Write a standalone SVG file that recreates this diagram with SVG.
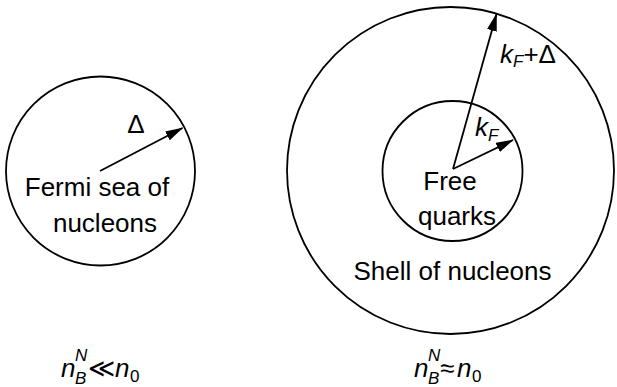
<svg xmlns="http://www.w3.org/2000/svg" width="617" height="387" viewBox="0 0 617 387">
<style>
.c{fill:none;stroke:#000;stroke-width:1.8}
.a{fill:none;stroke:#000;stroke-width:1.8}
.t{font-family:"Liberation Sans",Arial,sans-serif;font-size:26px;fill:#000}
.i{font-style:italic}
.s{font-size:17px}
</style>
<defs>
<marker id="ah" markerWidth="18" markerHeight="10" refX="17" refY="5" orient="auto" markerUnits="userSpaceOnUse">
<path d="M0,0 L18,5 L0,10 Z" fill="#000"/>
</marker>
</defs>
<rect width="617" height="387" fill="#fff"/>
<g id="fermi-sea">
<circle class="c" cx="100.5" cy="171" r="94.5"/>
<text class="t" x="97" y="196" text-anchor="middle">Fermi sea of</text>
<text class="t" x="105" y="232" text-anchor="middle">nucleons</text>
</g>
<g id="shell">
<circle class="c" cx="450.5" cy="170.5" r="163.5"/>
<text class="t" x="452.5" y="280" text-anchor="middle">Shell of nucleons</text>
</g>
<g id="free-quarks">
<circle class="c" cx="452.5" cy="171" r="70"/>
<text class="t" x="450" y="190" text-anchor="middle">Free</text>
<text class="t" x="457" y="225" text-anchor="middle">quarks</text>
</g>
<g id="connectors">
<line class="a" x1="100" y1="171" x2="182.5" y2="128" marker-end="url(#ah)"/>
<line class="a" x1="453" y1="169" x2="496.5" y2="14" marker-end="url(#ah)"/>
<line class="a" x1="453" y1="169" x2="513" y2="140" marker-end="url(#ah)"/>
</g>
<g id="labels">
<text class="t" x="136" y="133" text-anchor="middle">Δ</text>
<text class="t" x="500" y="63"><tspan class="i">k</tspan><tspan class="i s" dy="4">F</tspan><tspan dy="-4">+Δ</tspan></text>
<text class="t" x="475" y="136"><tspan class="i">k</tspan><tspan class="i s" dy="5">F</tspan></text>
</g>
<g id="density-low">
<text class="t i" x="61" y="377">n</text>
<text class="t i s" x="75" y="361">N</text>
<text class="t i s" x="75" y="384">B</text>
<text class="t" x="88" y="377">≪</text>
<text class="t i" x="115" y="377">n</text>
<text class="t s" x="130" y="382">0</text>
</g>
<g id="density-high">
<text class="t i" x="414" y="377">n</text>
<text class="t i s" x="428" y="361">N</text>
<text class="t i s" x="428" y="384">B</text>
<text class="t" x="440" y="377">≈</text>
<text class="t i" x="457" y="377">n</text>
<text class="t s" x="472" y="382">0</text>
</g>
</svg>
